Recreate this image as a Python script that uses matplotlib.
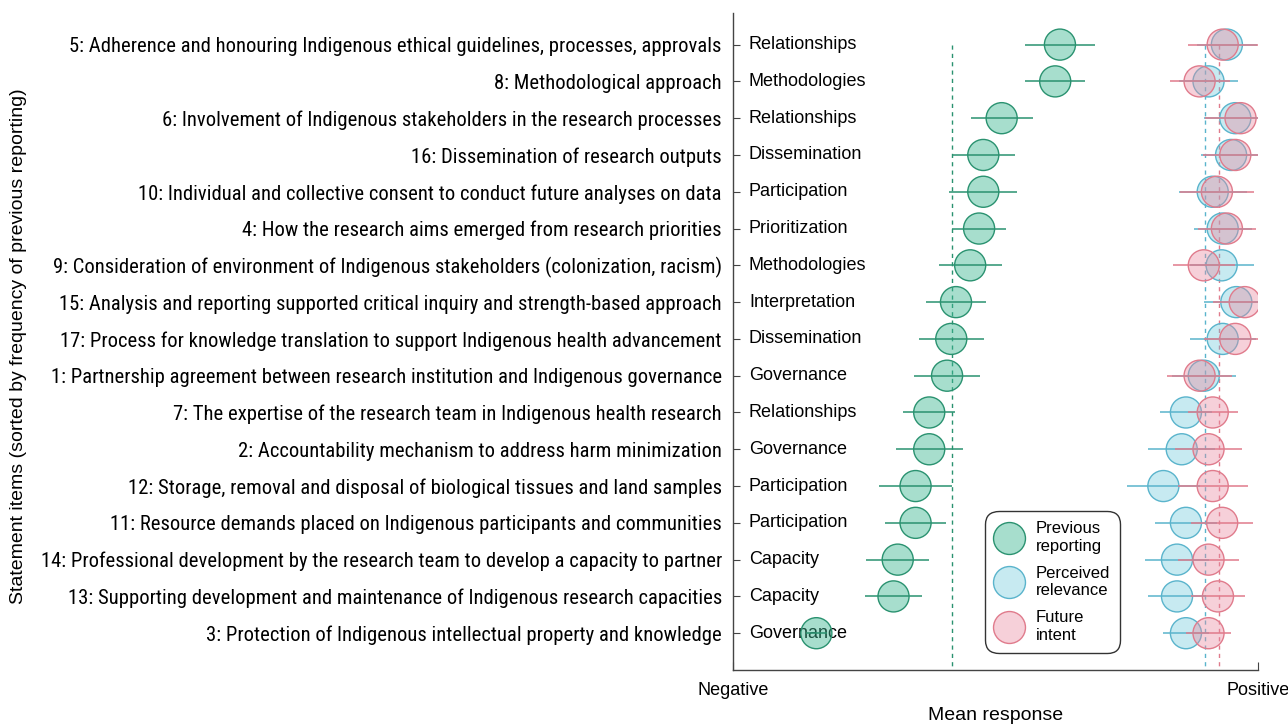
import matplotlib.pyplot as plt
import numpy as np
from matplotlib.lines import Line2D
from matplotlib.colors import to_rgba

# Statement items, sorted by frequency of previous reporting
items = [
    '5: Adherence and honouring Indigenous ethical guidelines, processes, approvals',
    '8: Methodological approach',
    '6: Involvement of Indigenous stakeholders in the research processes',
    '16: Dissemination of research outputs',
    '10: Individual and collective consent to conduct future analyses on data',
    '4: How the research aims emerged from research priorities',
    '9: Consideration of environment of Indigenous stakeholders (colonization, racism)',
    '15: Analysis and reporting supported critical inquiry and strength-based approach',
    '17: Process for knowledge translation to support Indigenous health advancement',
    '1: Partnership agreement between research institution and Indigenous governance',
    '7: The expertise of the research team in Indigenous health research',
    '2: Accountability mechanism to address harm minimization',
    '12: Storage, removal and disposal of biological tissues and land samples',
    '11: Resource demands placed on Indigenous participants and communities',
    '14: Professional development by the research team to develop a capacity to partner',
    '13: Supporting development and maintenance of Indigenous research capacities',
    '3: Protection of Indigenous intellectual property and knowledge',
]
domains = ['Relationships', 'Methodologies', 'Relationships', 'Dissemination', 'Participation',
           'Prioritization', 'Methodologies', 'Interpretation', 'Dissemination', 'Governance',
           'Relationships', 'Governance', 'Participation', 'Participation', 'Capacity',
           'Capacity', 'Governance']

# Mean response (0 = negative, 100 = positive) and error half-widths
prev_mean = np.array([62.3, 61.4, 51.2, 47.7, 47.7, 46.9, 45.2, 42.5, 41.6, 40.8,
                      37.4, 37.4, 34.8, 34.8, 31.4, 30.6, 15.9])
prev_err = np.array([6.6, 5.7, 5.9, 6.0, 6.5, 5.2, 6.0, 5.7, 6.2, 6.3,
                     4.9, 6.4, 7.0, 5.8, 6.0, 5.5, 2.0])
rel_mean = np.array([94.1, 90.6, 95.7, 94.9, 91.4, 93.3, 93.1, 95.9, 93.3, 89.7,
                     86.3, 85.5, 82.0, 86.3, 84.6, 84.6, 86.3])
rel_err = np.array([5.7, 5.7, 5.9, 5.7, 6.5, 5.5, 6.1, 6.1, 6.3, 6.1,
                    4.9, 6.4, 7.0, 5.9, 6.1, 5.5, 4.3])
fut_mean = np.array([93.3, 88.9, 96.7, 95.7, 92.2, 94.1, 89.7, 97.5, 95.7, 88.9,
                     91.4, 90.6, 91.4, 93.2, 90.6, 92.4, 90.6])
fut_err = np.array([6.7, 5.7, 6.7, 6.1, 7.0, 5.5, 5.9, 6.1, 6.0, 6.2,
                    4.8, 6.3, 6.7, 5.9, 5.9, 5.2, 4.3])

series = [
    ('Previous\nreporting', prev_mean, prev_err, '#3cb792', 0.45, '#2a9270'),
    ('Perceived\nrelevance', rel_mean, rel_err, '#5fc3d9', 0.35, '#5ab4cc'),
    ('Future\nintent', fut_mean, fut_err, '#ea8aa0', 0.40, '#e07b8c'),
]

narrow = ['Roboto Condensed', 'Archivo Narrow', 'DejaVu Sans']
regular = ['Liberation Sans', 'DejaVu Sans']
plt.rcParams['font.family'] = regular

XMAX = 100
y = np.arange(1, len(items) + 1)

fig = plt.figure(figsize=(12.88, 7.24), dpi=100)
ax = fig.add_axes([0.569, 0.0746, 0.4076, 0.908])

for k, (lab, m, e, fc, a, ec) in enumerate(series):
    lo = m - np.maximum(m - e, 0)
    hi = np.minimum(m + e, XMAX) - m
    ax.errorbar(m, y, xerr=[lo, hi], fmt='none', ecolor=ec, elinewidth=1.1,
                capsize=0, zorder=4 + k)
    ax.scatter(m, y, s=500, facecolor=fc, alpha=a, edgecolor='none', zorder=2 + k)
    ax.scatter(m, y, s=500, facecolor='none', edgecolor=ec, linewidth=1.0, zorder=2 + k)
    ax.vlines(m.mean(), 1, 18.0, colors=ec, linestyles=(0, (3, 3)), linewidth=1.0, zorder=1)

ax.set_xlim(0, XMAX)
ax.set_ylim(18.0, 0.13)

ax.spines['top'].set_visible(False)
ax.spines['right'].set_visible(False)
for s in ['left', 'bottom']:
    ax.spines[s].set_color('#444444')
    ax.spines[s].set_linewidth(1.0)

ax.set_yticks(y)
ax.set_yticklabels(items, family=narrow, fontsize=14.9)
ax.tick_params(axis='y', direction='in', length=5, pad=8, color='#444444')
ax.set_xticks([0, XMAX])
ax.set_xticklabels(['', ''])
ax.tick_params(axis='x', direction='in', length=6, color='#444444')

for yi, d in zip(y, domains):
    ax.text(0.0305, yi, d, transform=ax.get_yaxis_transform(), ha='left', va='center',
            fontsize=13, zorder=1)

ax.text(0, -0.0185, 'Negative', transform=ax.transAxes, ha='center', va='top', fontsize=13)
ax.text(1, -0.0185, 'Positive', transform=ax.transAxes, ha='center', va='top', fontsize=13)
ax.set_xlabel('Mean response', fontsize=14, labelpad=23)
fig.text(0.014, 0.5214, 'Statement items (sorted by frequency of previous reporting)',
         rotation=90, ha='center', va='center', fontsize=14)

handles = [Line2D([], [], linestyle='none', marker='o', markersize=23,
                  markerfacecolor=to_rgba(fc, a),
                  markeredgecolor=ec, markeredgewidth=1.0)
           for lab, m, e, fc, a, ec in series]
leg = ax.legend(handles, [s[0] for s in series], loc='lower left',
                bbox_to_anchor=(0.487, 0.031), fontsize=12, frameon=True,
                labelspacing=0.72, handletextpad=0.8, borderpad=0.42, handlelength=1.6,
                borderaxespad=0)
leg.get_frame().set_edgecolor('black')
leg.get_frame().set_linewidth(1.0)
leg.get_frame().set_boxstyle('round', pad=0.2, rounding_size=0.8)
leg.set_zorder(10)

fig.savefig('out.png', dpi=100)
